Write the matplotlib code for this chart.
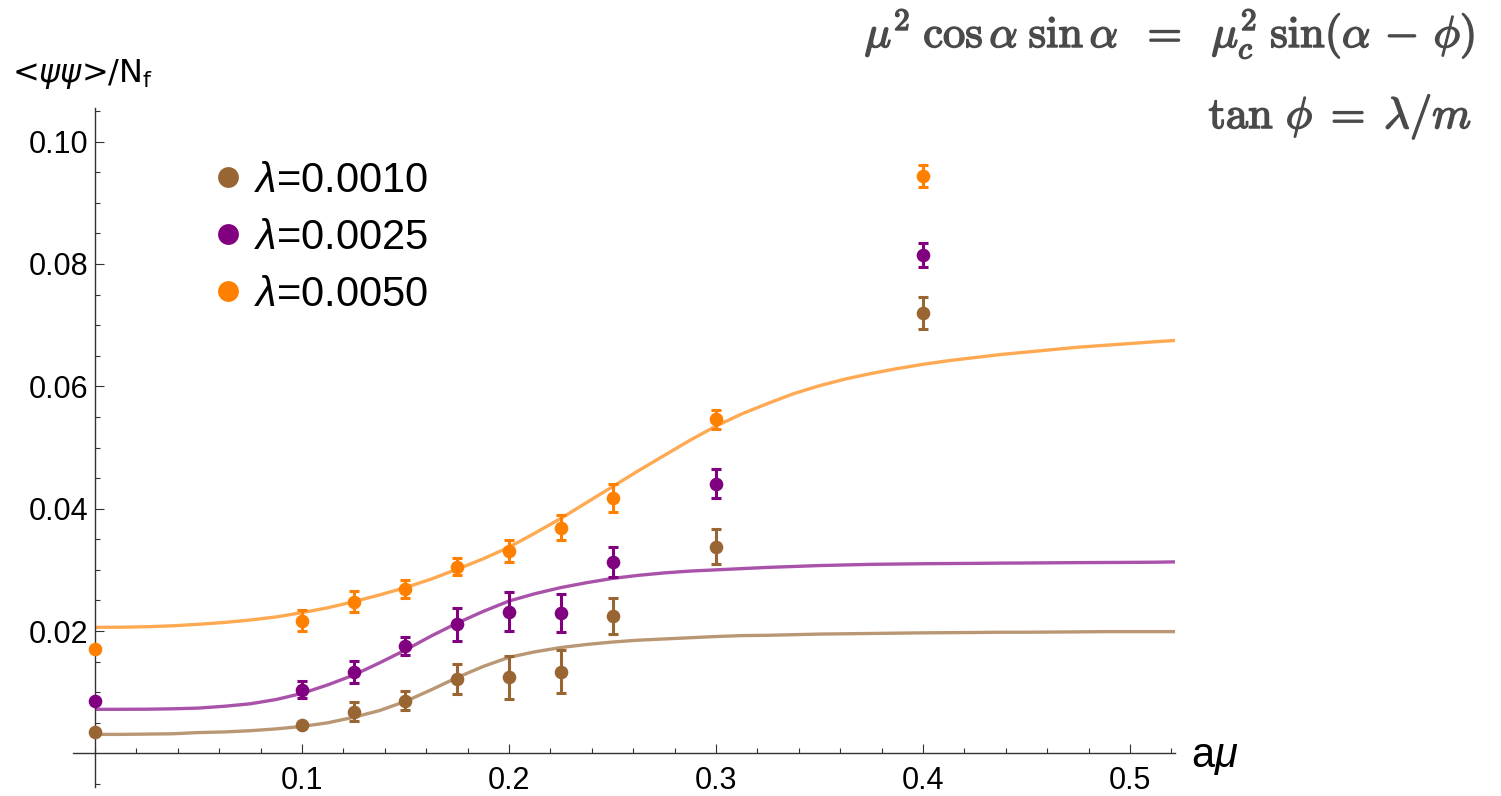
import matplotlib
matplotlib.use("Agg")
import matplotlib.pyplot as plt
from matplotlib.lines import Line2D
from matplotlib.ticker import FixedLocator
import matplotlib.patheffects as pe

plt.rcParams['font.family'] = ['Liberation Sans', 'DejaVu Sans']
plt.rcParams['mathtext.fontset'] = 'custom'
plt.rcParams['mathtext.rm'] = 'Liberation Sans'
plt.rcParams['mathtext.it'] = 'Liberation Sans:italic'
plt.rcParams['mathtext.bf'] = 'Liberation Sans:bold'

# ---------------- data ----------------
mu_pts = [0.0, 0.1, 0.125, 0.15, 0.175, 0.2, 0.225, 0.25, 0.3, 0.4]

y_l0010 = [0.00356, 0.00465, 0.00683, 0.00863, 0.01216, 0.01244, 0.01336, 0.02245, 0.0338, 0.0720]
e_l0010 = [0.0003, 0.0003, 0.0016, 0.0016, 0.0025, 0.0035, 0.0035, 0.0030, 0.0028, 0.0026]

y_l0025 = [0.00857, 0.01037, 0.01325, 0.01755, 0.02114, 0.02315, 0.0230, 0.0313, 0.0441, 0.0815]
e_l0025 = [0.0003, 0.0014, 0.0018, 0.0015, 0.0027, 0.0032, 0.0031, 0.0025, 0.0024, 0.0020]

y_l0050 = [0.01706, 0.02168, 0.0248, 0.0269, 0.0305, 0.0331, 0.0369, 0.0418, 0.0546, 0.0944]
e_l0050 = [0.0005, 0.0017, 0.0017, 0.0015, 0.0014, 0.0018, 0.0020, 0.0023, 0.0016, 0.0018]

# fitted curves
mu_fit = [0.0, 0.0125, 0.025, 0.0375, 0.05, 0.0625, 0.075, 0.0875, 0.1, 0.1125,
          0.125, 0.1375, 0.15, 0.1625, 0.175, 0.1875, 0.2, 0.2125, 0.225, 0.2375,
          0.25, 0.2625, 0.275, 0.2875, 0.3, 0.3125, 0.325, 0.3375, 0.35, 0.3625,
          0.375, 0.3875, 0.4, 0.4125, 0.425, 0.4375, 0.45, 0.4625, 0.475, 0.4875,
          0.5, 0.5125, 0.522]
fit_l0010 = [0.0031, 0.0031, 0.00315, 0.0032, 0.0034, 0.0035, 0.0037, 0.0040, 0.0044, 0.0050,
             0.0059, 0.0070, 0.0085, 0.0104, 0.0124, 0.0142, 0.0157, 0.0166, 0.0173, 0.0178,
             0.0182, 0.0185, 0.0187, 0.0189, 0.0191, 0.01925, 0.0193, 0.0194, 0.0195, 0.01955,
             0.0196, 0.01965, 0.0197, 0.01973, 0.01976, 0.0198, 0.0198, 0.01983, 0.01986, 0.0199,
             0.0199, 0.0199, 0.0199]
fit_l0025 = [0.0072, 0.0072, 0.00722, 0.00728, 0.0074, 0.0077, 0.0081, 0.0088, 0.0098, 0.0112,
             0.0128, 0.0148, 0.0169, 0.0192, 0.0213, 0.0232, 0.0249, 0.0261, 0.0271, 0.0279,
             0.0286, 0.0291, 0.0295, 0.0298, 0.0300, 0.0302, 0.0304, 0.03055, 0.0307, 0.0308,
             0.0309, 0.03095, 0.0310, 0.03103, 0.03106, 0.0311, 0.03112, 0.03115, 0.03118, 0.0312,
             0.03122, 0.03125, 0.0313]
fit_l0050 = [0.0206, 0.02062, 0.0207, 0.02085, 0.0211, 0.0214, 0.0218, 0.0223, 0.0230, 0.0238,
             0.0248, 0.0259, 0.0271, 0.0285, 0.0301, 0.0318, 0.0337, 0.0360, 0.0384, 0.0410,
             0.0436, 0.0462, 0.0487, 0.0512, 0.0535, 0.0555, 0.0572, 0.0588, 0.0601, 0.0612,
             0.0621, 0.0629, 0.0636, 0.0642, 0.0647, 0.0652, 0.0656, 0.0660, 0.0664, 0.0667,
             0.0670, 0.0673, 0.0675]

labels = ['$\\lambda$=0.0010', '$\\lambda$=0.0025', '$\\lambda$=0.0050']
colors = ['#996633', '#800080', '#FF8000']

xticks = [0.1, 0.2, 0.3, 0.4, 0.5]
yticks = [0.02, 0.04, 0.06, 0.08, 0.10]
ytick_labels = ['0.02', '0.04', '0.06', '0.08', '0.10']

# ---------------- figure ----------------
fig = plt.figure(figsize=(15.01, 7.96), dpi=100)
ax = fig.add_axes([73/1501, 9/796, (1175-73)/1501, (787-108)/796])
ax.set_xlim(-0.0106, 0.5217)
ax.set_ylim(-0.0055, 0.1055)

fits = [fit_l0010, fit_l0025, fit_l0050]
ys = [y_l0010, y_l0025, y_l0050]
es = [e_l0010, e_l0025, e_l0050]
for fy, c in zip(fits, colors):
    ax.plot(mu_fit, fy, color=c, alpha=0.68, lw=2.4, zorder=2,
            solid_capstyle='butt', solid_joinstyle='round')
for y, e, c in zip(ys, es, colors):
    ax.errorbar(mu_pts, y, yerr=e, fmt='o', color=c, ms=8.8, mec=c, mfc=c,
                elinewidth=2.2, capsize=3.6, capthick=2.2, zorder=3)

# axes styling (Mathematica-like crossing axes)
for s in ['top', 'right']:
    ax.spines[s].set_visible(False)
ax.spines['left'].set_position(('data', 0))
ax.spines['bottom'].set_position(('data', 0))
for s in ['left', 'bottom']:
    ax.spines[s].set_color('#333333')
    ax.spines[s].set_linewidth(1.0)

ax.xaxis.set_major_locator(FixedLocator(xticks))
ax.xaxis.set_minor_locator(FixedLocator([i * 0.02 for i in range(0, 27) if i % 5 != 0 or i == 0]))
ax.yaxis.set_major_locator(FixedLocator(yticks))
ax.yaxis.set_minor_locator(FixedLocator([-0.005] + [i * 0.005 for i in range(1, 22) if i % 4 != 0]))
ax.set_yticklabels(ytick_labels)
ax.tick_params(which='major', direction='in', length=6.2, width=0.8, color='#333333',
               labelsize=22, labelcolor='black')
ax.tick_params(which='minor', direction='in', length=3.6, width=0.8, color='#333333')
ax.tick_params(axis='x', which='major', pad=9)
ax.tick_params(axis='y', which='major', pad=5)

# axis labels
fig.text(12/1501, 1 - 82/796, '<$\\psi\\psi$>/N$_\\mathregular{f}$', fontsize=23,
         family='DejaVu Sans', math_fontfamily='dejavusans', ha='left', va='baseline')
fig.text(1191/1501, 1 - 767/796, 'a$\\mu$', fontsize=30, ha='left', va='baseline')

# legend
handles = [Line2D([], [], ls='', marker='o', ms=15, mew=0, color=c) for c in colors]
leg = ax.legend(handles, labels, loc='upper left', bbox_to_anchor=(186/1501, 1 - 140/796),
                bbox_transform=fig.transFigure, frameon=False, fontsize=30,
                handletextpad=0.12, labelspacing=0.41, handlelength=1.0, borderpad=0)

# formulas top right
fcol = '#4a4a4a'
peff = [pe.withStroke(linewidth=1.1, foreground=fcol)]
fig.text(1475/1501, 1 - 47/796,
         r'$\mu^2\;\cos\alpha\;\sin\alpha\;\;=\;\;\mu_c^2\;\sin(\alpha\,-\,\phi)$',
         fontsize=32, ha='right', va='baseline', color=fcol, math_fontfamily='cm',
         path_effects=peff)
fig.text(1472/1501, 1 - 128/796, r'$\tan\,\phi\;=\;\lambda/m$',
         fontsize=32, ha='right', va='baseline', color=fcol, math_fontfamily='cm',
         path_effects=peff)

fig.savefig('out.png', dpi=100)
